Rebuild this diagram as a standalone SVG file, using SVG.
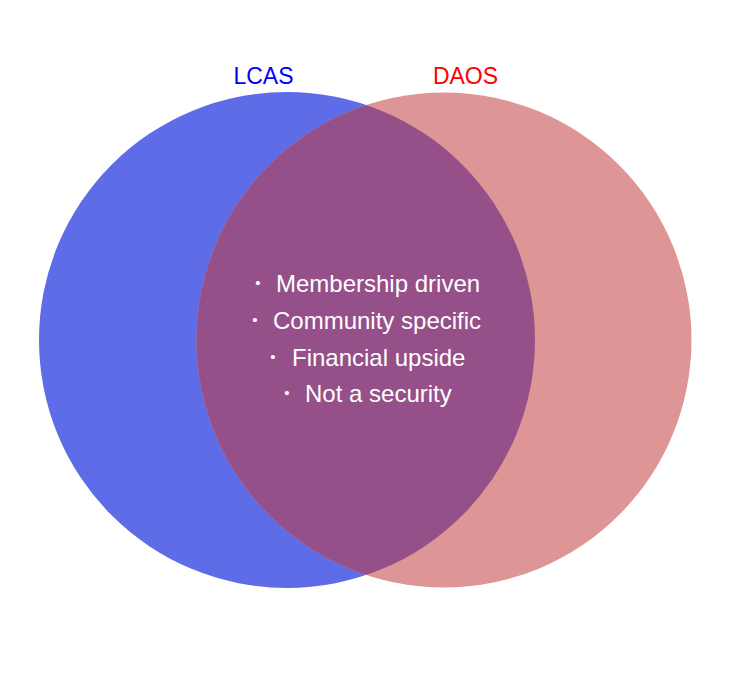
<svg xmlns="http://www.w3.org/2000/svg" width="730" height="693" viewBox="0 0 730 693">
<style>
.lbl{font-family:"Liberation Sans",Arial,sans-serif;font-size:23px;text-anchor:middle}
.it{font-family:"Liberation Sans",Arial,sans-serif;font-size:24px;fill:#ffffff}
.b{text-anchor:middle;font-size:15px}
</style>
<rect width="730" height="693" fill="#ffffff"/>
<g id="lcas">
<circle cx="287" cy="340" r="248" fill="#5f6ce8"/>
</g>
<g id="daos">
<circle cx="444" cy="340" r="247.5" fill="#dd9596"/>
</g>
<g id="overlap">
<clipPath id="cl"><circle cx="287" cy="340" r="248"/></clipPath>
<circle cx="444" cy="340" r="247.5" fill="#955089" clip-path="url(#cl)"/>
</g>
<g id="labels">
<text class="lbl" x="263.5" y="84" fill="#0000ff">LCAS</text>
<text class="lbl" x="465.5" y="84" fill="#ff0000">DAOS</text>
</g>
<g id="items">
<text class="it b" x="258" y="288">•</text><text class="it" x="276" y="292">Membership driven</text>
<text class="it b" x="255" y="325">•</text><text class="it" x="273" y="329">Community specific</text>
<text class="it b" x="273" y="362">•</text><text class="it" x="292" y="366">Financial upside</text>
<text class="it b" x="287" y="398">•</text><text class="it" x="305" y="402">Not a security</text>
</g>
<g id="connectors"></g>
</svg>
